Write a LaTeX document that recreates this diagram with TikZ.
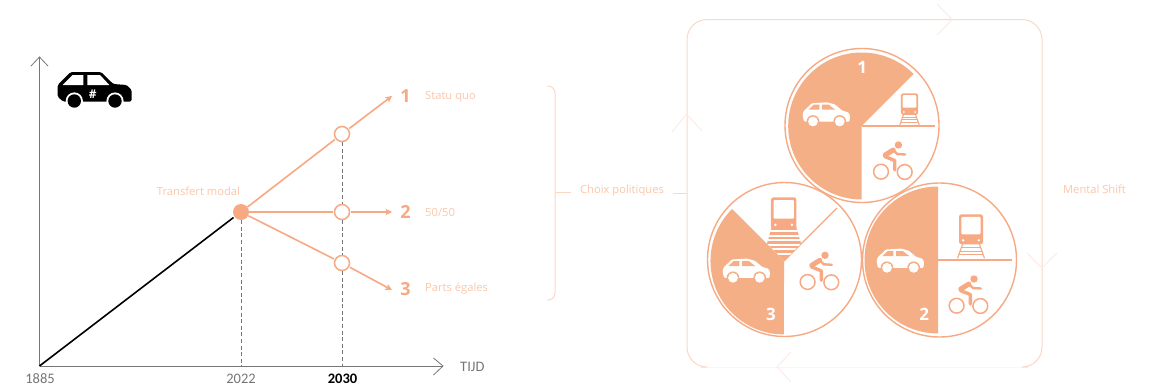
\documentclass[tikz,border=0pt]{standalone}
\usepackage{fontspec}
\setmainfont{Open Sans}
\newfontfamily\calib{Carlito}
\usetikzlibrary{arrows.meta}
\definecolor{pie}{HTML}{F4AF87}
\definecolor{ora}{HTML}{F7A983}
\definecolor{txt}{HTML}{FDC7A9}
\definecolor{faint}{HTML}{FBD8C6}
\definecolor{chev}{HTML}{FDEBE2}
\definecolor{vfaint}{HTML}{FEF5F0}
\definecolor{ax}{HTML}{767676}
\tikzset{
  axisline/.style={draw=ax,line width=0.8pt},
  guide/.style={draw=ax,line width=1pt,dash pattern=on 4pt off 2.6pt},
  branch/.style={draw=ora,line width=1.6pt},
  tipped/.style={branch,-{Stealth[length=6.5pt,width=6.5pt,inset=1.6pt]}},
  openpt/.style={circle,draw=ora,line width=1.5pt,fill=white,minimum size=15pt,inner sep=0pt},
  fullpt/.style={circle,fill=ora,minimum size=16pt,inner sep=0pt},
  numlab/.style={text=ora,font=\fontsize{18}{18}\selectfont\bfseries,inner sep=0pt},
  optlab/.style={text=txt,font=\fontsize{11.2}{13}\selectfont,inner sep=0pt},
  yearlab/.style={text=#1,font=\calib\fontsize{14.5}{14.5}\selectfont,inner sep=0pt},
  piecirc/.style={draw=ora,line width=1.4pt,fill=white},
  pienum/.style={text=white,font=\fontsize{17}{17}\selectfont\bfseries,inner sep=0pt},
  thin frame/.style={draw=faint,line width=1pt},
  chevron/.style={draw=chev,line width=0.9pt},
}
\newcommand{\whitecar}[2]{%
  \begin{scope}[shift={(#1,#2)}]
    \fill[white,rounded corners=1pt] (0.5,13) -- (1.7,9) -- (10,1.2) -- (25,0.3) -- (33,2.5) -- (40,8.5) -- (46.5,10.5) -- (48,13.5) -- (47.5,19.5) -- (2,19.5) -- cycle;
    \fill[pie] (11,19.5) circle (6.4) (37.7,19.5) circle (6.4);
    \fill[white] (11,19.5) circle (4.9) (37.7,19.5) circle (4.9);
    \fill[pie] (6.7,7.7) -- (11.7,2.7) -- (17.3,2.7) -- (17.3,7.7) -- cycle;
    \fill[pie] (20,2.7) -- (26.7,2.7) -- (33.3,7.7) -- (20,7.7) -- cycle;
  \end{scope}}
\newcommand{\trainbody}[4]{% x, y top centre, scale
  \begin{scope}[shift={(#1,#2)},scale=#3]
    \fill[ora,rounded corners=2.5pt] (-12,0) rectangle (12,30);
    \fill[white,rounded corners=1pt] (-9.6,2.6) rectangle (9.6,20);
    \fill[white] (-7.8,26) circle (1.3) (7.8,26) circle (1.3);
    #4
  \end{scope}}
\newcommand{\trackplain}{%
  \draw[ora,line width=1.1pt] (-8.5,30) -- (-13.5,44) (8.5,30) -- (13.5,44);
  \draw[ora,line width=0.9pt] (-9.5,33.5) -- (9.5,33.5) (-10.8,37) -- (10.8,37) (-12,40.5) -- (12,40.5);}
\newcommand{\cyclist}[2]{%
  \begin{scope}[shift={(#1,#2)}]
    \fill[ora] (25.7,4) circle (3.7);
    \draw[ora,line width=1.5pt] (8.3,30.7) circle (7.4) (32,31) circle (7.4);
    \draw[ora,line width=5pt,line cap=round] (12.5,14) -- (20.5,9);
    \draw[ora,line width=2.4pt,line cap=round,line join=round] (21,9.5) -- (24.5,13) -- (32.5,13.5);
    \draw[ora,line width=3.4pt,line cap=round,line join=round] (12,15.5) -- (22,19.5) -- (22,29);
  \end{scope}}
\begin{document}
\begin{tikzpicture}[x=1pt,y=-1pt]
\useasboundingbox (0,0) rectangle (1149,386);
\fill[white] (0,0) rectangle (1149,386);

% graph
\coordinate (O) at (39.5,366);
\coordinate (Ytop) at (39.5,57);
\coordinate (Xend) at (443,366);
\coordinate (B22) at (241,366);
\coordinate (B30) at (342,366);
\coordinate (e1) at (392,96);
\coordinate (e2) at (392,212);
\coordinate (e3) at (392,290);
\draw[axisline] (O) -- (Ytop);
\draw[axisline] (31,66) -- (Ytop) -- (48,66);
\draw[axisline] (O) -- (Xend);
\draw[axisline] (433.5,358) -- (Xend) -- (433.5,375);

\node[fullpt] (T) at (241,212) {};
\node[openpt] (a) at (342,134) {};
\node[openpt] (b) at (342,212) {};
\node[openpt] (c) at (342,263) {};
\draw[guide] (T) -- (B22);
\draw[guide] (a) -- (b);
\draw[guide] (b) -- (c);
\draw[guide] (c) -- (B30);
\draw[black,line width=1.6pt] (O) -- (233.5,217.5);
\draw[branch,shorten >=0.8pt] (T) -- (a);
\draw[branch,shorten >=0.8pt] (T) -- (b);
\draw[branch,shorten >=0.8pt] (T) -- (c);
\draw[tipped,shorten <=0.8pt] (a) -- (e1);
\draw[tipped,shorten <=0.8pt] (b) -- (e2);
\draw[tipped,shorten <=0.8pt] (c) -- (e3);

\node[optlab] (tm) at (198.5,191) {Transfert modal};
\node[numlab] (n1) at (405.5,96) {1};
\node[numlab] (n2) at (405.5,212) {2};
\node[numlab] (n3) at (405.5,289) {3};
\node[optlab,anchor=west] (l1) at (425,97) {Statu quo};
\node[optlab,anchor=west] (l2) at (425,212.5) {50/50};
\node[optlab,anchor=west] (l3) at (425,289) {Parts égales};
\node[yearlab=ax] (y1) at (40,378.5) {1885};
\node[yearlab=ax] (y2) at (241,378.5) {2022};
\node[yearlab=black] (y3) at (342.5,378.5) {\textbf{2030}};
\node[yearlab=ax,anchor=west] (tijd) at (460,367) {TIJD};

% black car
\fill[black,rounded corners=1.5pt] (57.7,85) -- (70.7,72) -- (101,72) -- (113.3,84) -- (126.7,85) -- (131.7,90) -- (131.7,101.5) -- (63,101.5) -- (57.7,96.7) -- cycle;
\fill[white] (74.3,101) circle (8.6) (115,101) circle (8.6);
\fill[black] (74.3,101) circle (6.7) (115,101) circle (6.7);
\fill[white] (62.7,85) -- (72.7,75) -- (83.3,75) -- (83.3,85) -- cycle;
\fill[white] (87.3,75) -- (100,75) -- (109.3,85) -- (87.3,85) -- cycle;
\node[text=white,font=\fontsize{12}{12}\selectfont\bfseries,inner sep=0pt] (hash) at (92.7,94) {\#};

% bracket
\coordinate (brtop) at (547,86);
\coordinate (brbot) at (547,300);
\coordinate (brmid) at (555,192.5);
\coordinate (brtick) at (571,192.5);
\coordinate (frametick) at (673,193);
\coordinate (frameleft) at (687,193);
\draw[thin frame,rounded corners=7pt] (brtop) -- (555,86) -- (555,300) -- (brbot);
\draw[thin frame] (brmid) -- (brtick);
\node[optlab] (choix) at (622,191) {Choix politiques};
\draw[thin frame] (frametick) -- (frameleft);

% frame
\draw[vfaint,line width=1pt] (707,367) -- (1022,367);
\draw[thin frame,rounded corners=20pt] (701,367) -- (687,367) -- (687,19.5) -- (1042,19.5) -- (1042,367) -- (1028,367);
\draw[chevron] (937,4) -- (952,19.5) -- (937,35);
\draw[chevron] (672,132) -- (686.5,114) -- (702,131);
\draw[chevron] (1027,253) -- (1042,268) -- (1057,253);
\draw[chevron] (791,352) -- (777,367) -- (791,382);
\node[optlab] (ms) at (1094.5,189.5) {Mental Shift};

% pie 1
\filldraw[piecirc] (862,125.5) circle (77);
\fill[pie] (861.7,126) -- ++(0,73.5) arc[start angle=90,end angle=315,radius=73.5] -- cycle;
\draw[ora,line width=1.2pt] (861.7,126) -- (935,126);
\whitecar{802}{102}
\trainbody{909.5}{93.3}{0.72}{\trackplain}
\cyclist{872.7}{141}
\node[pienum] (p1) at (862.3,67.3) {1};

% pie 2
\filldraw[piecirc] (939.5,260) circle (77);
\fill[pie] (938,260) -- ++(0,-73.5) arc[start angle=270,end angle=90,radius=73.5] -- cycle;
\draw[ora,line width=1.2pt] (938,260) -- (1012,260);
\whitecar{876}{248.3}
\trainbody{971}{214.3}{1}{\trackplain}
\cyclist{948.3}{275}
\node[pienum] (p2) at (924.3,314) {2};

% pie 3
\filldraw[piecirc] (784.5,259.5) circle (77);
\draw[ora,line width=1.2pt] (784,261) -- (837,208);
\begin{scope}
  \clip (772,226) -- (796,226) -- (801,243.5) -- (784,261) -- (767,243.5) -- cycle;
  \fill[ora] (760,226) rectangle (810,262);
  \foreach \yy in {230,234.5,239,243.5,248,252.5} \fill[white] (760,\yy) rectangle (810,\yy+2.2);
\end{scope}
\fill[pie] (784,261) -- ++(-52,-52) arc[start angle=225,end angle=90,radius=73.5] -- cycle;
\trainbody{783.7}{197.3}{1.06}{}
\whitecar{722}{258.3}
\cyclist{799.3}{251.3}
\node[pienum] (p3) at (771,314) {3};
\end{tikzpicture}
\end{document}
